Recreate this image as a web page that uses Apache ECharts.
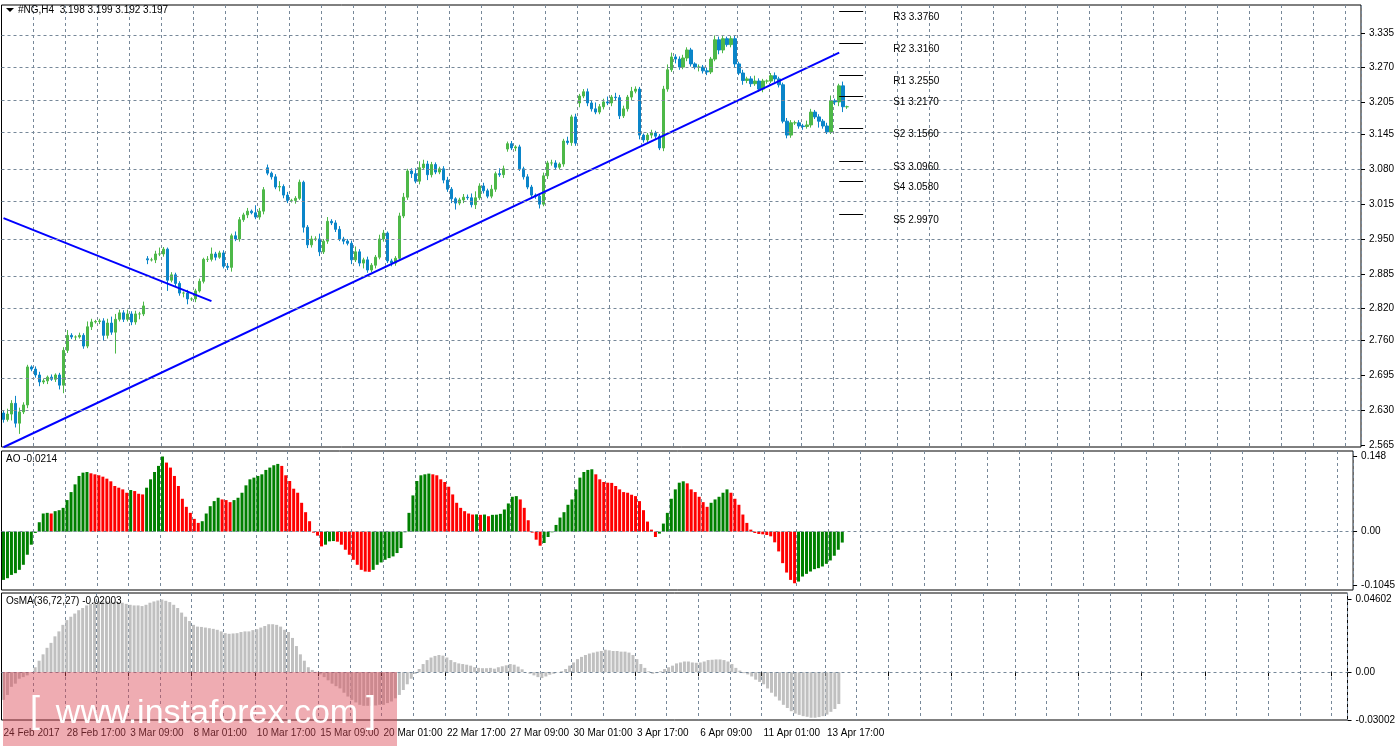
<!DOCTYPE html>
<html>
<head>
<meta charset="utf-8">
<script src="https://cdn.jsdelivr.net/npm/echarts@6/dist/echarts.min.js"></script>
<style>
html, body { margin: 0; padding: 0; background: #fff; }
#chart { width: 1398px; height: 750px; }
</style>
</head>
<body>
<div id="chart"></div>
<script>
// H4 closes
var closes = [
2.613,2.623,2.643,2.606,2.627,2.640,2.711,2.707,2.696,2.683,
2.685,2.692,2.688,2.696,2.677,2.742,2.770,2.767,2.767,2.770,
2.750,2.786,2.795,2.796,2.797,2.770,2.793,2.776,2.800,2.812,
2.800,2.810,2.795,2.810,2.810,2.825,2.911,2.911,2.922,2.922,
2.931,2.873,2.883,2.867,2.849,2.849,2.838,2.838,2.853,2.871,
2.912,2.912,2.922,2.916,2.924,2.899,2.897,2.956,2.950,2.986,
2.995,3.002,2.999,2.991,3.002,3.042,3.073,3.066,3.047,3.048,
3.032,3.022,3.022,3.026,3.056,2.972,2.939,2.950,2.950,2.926,
2.946,2.983,2.980,2.968,2.950,2.946,2.942,2.911,2.926,2.905,
2.911,2.892,2.901,2.916,2.950,2.961,2.909,2.905,2.914,2.993,
3.028,3.077,3.072,3.058,3.083,3.090,3.070,3.089,3.075,3.081,
3.060,3.043,3.025,3.017,3.023,3.028,3.027,3.014,3.027,3.049,
3.040,3.030,3.043,3.072,3.070,3.081,3.128,3.120,3.122,3.081,
3.066,3.047,3.032,3.030,3.015,3.068,3.092,3.092,3.084,3.090,
3.133,3.130,3.178,3.129,3.217,3.225,3.204,3.193,3.187,3.197,
3.206,3.204,3.215,3.214,3.180,3.193,3.215,3.226,3.230,3.144,
3.135,3.144,3.148,3.142,3.120,3.230,3.266,3.290,3.286,3.271,
3.288,3.303,3.277,3.271,3.271,3.264,3.262,3.286,3.322,3.303,
3.324,3.313,3.324,3.277,3.260,3.246,3.249,3.240,3.245,3.230,
3.245,3.245,3.255,3.249,3.238,3.170,3.144,3.167,3.167,3.161,
3.160,3.163,3.187,3.178,3.170,3.161,3.150,3.208,3.206,3.236,
3.197,3.197
];
var firstOpen = 2.625;
// opens after weekend gaps
var gapOpens = { 36: 2.913, 66: 3.083, 126: 3.118, 144: 3.204 };
// wick lengths in thousandths
var wickUp = [
4,10,6,14,8,5,4,3,5,6, 4,3,5,3,4,6,10,4,3,5, 4,10,6,3,4,5,8,12,10,6,
5,8,5,6,4,8,5,4,6,12, 4,3,5,4,4,3,6,3,4,5, 3,6,12,4,4,5,6,4,8,5,
4,6,3,14,6,5,6,3,5,10, 4,6,3,4,5,3,4,6,5,10, 4,8,4,5,6,4,4,5,10,5,
4,6,4,4,8,6,3,4,4,6, 8,4,5,10,12,8,6,5,4,4, 5,6,4,3,4,6,5,8,12,5,
6,4,8,4,10,6,4,5,3,4, 4,5,4,3,4,6,4,6,5,3, 4,8,4,6,4,5,6,4,12,5,
6,10,4,8,5,6,4,8,5,4, 3,4,6,4,4,6,10,8,5,5, 6,5,4,3,5,4,6,4,8,6,
5,4,5,6,4,6,4,5,10,5, 4,3,5,6,4,4,6,5,4,5, 4,8,6,4,5,4,6,10,4,4, 8,2
];
var wickDn = [
6,4,12,8,20,4,6,4,5,8, 4,6,3,5,8,15,5,4,6,3, 5,4,6,3,5,10,6,5,40,4,
5,4,6,5,10,4,8,3,6,4, 5,20,4,6,5,8,10,4,6,3, 4,5,4,6,3,4,5,8,4,5,
4,6,3,4,5,6,4,5,4,8, 6,5,4,6,3,10,6,5,4,8, 4,5,4,5,4,6,4,8,4,6,
10,5,4,6,4,5,4,6,5,4, 4,5,8,4,6,4,10,5,4,4, 6,5,8,12,4,6,4,5,8,4,
5,4,4,5,4,6,5,4,6,4, 5,4,6,5,8,4,6,5,4,4, 5,4,6,5,8,4,6,5,4,4,
5,4,6,5,6,4,5,6,4,8, 5,4,6,5,4,6,5,4,8,5, 4,6,5,4,8,5,6,4,4,8,
6,4,5,6,4,8,5,6,4,5, 6,5,4,6,5,4,6,5,4,5, 6,4,5,4,12,5,4,4,6,8, 10,4
];
var aoValues = [
-0.0946,-0.0913,-0.0848,-0.0815,-0.0749,-0.0650,-0.0453,-0.0256,-0.0026,0.0184,
0.0355,0.0368,0.0355,0.0401,0.0420,0.0466,0.0618,0.0775,0.0926,0.1091,
0.1156,0.1169,0.1143,0.1123,0.1104,0.1077,0.1038,0.0986,0.0894,0.0861,
0.0828,0.0762,0.0815,0.0795,0.0742,0.0729,0.0861,0.1025,0.1169,0.1288,
0.1472,0.1353,0.1255,0.1091,0.0894,0.0644,0.0486,0.0368,0.0250,0.0171,
0.0204,0.0355,0.0499,0.0598,0.0664,0.0631,0.0618,0.0578,0.0618,0.0664,
0.0762,0.0907,0.1025,0.1058,0.1091,0.1123,0.1209,0.1255,0.1301,0.1327,
0.1288,0.1104,0.0992,0.0841,0.0762,0.0565,0.0381,0.0204,-0.0020,-0.0079,
-0.0289,-0.0256,-0.0191,-0.0185,-0.0197,-0.0256,-0.0355,-0.0453,-0.0552,-0.0650,
-0.0749,-0.0782,-0.0788,-0.0749,-0.0650,-0.0604,-0.0552,-0.0519,-0.0486,-0.0420,
-0.0322,-0.0013,0.0368,0.0710,0.0992,0.1104,0.1123,0.1137,0.1123,0.1104,
0.1025,0.0972,0.0880,0.0729,0.0565,0.0466,0.0401,0.0355,0.0335,0.0338,
0.0329,0.0335,0.0302,0.0329,0.0332,0.0348,0.0434,0.0552,0.0683,0.0696,
0.0631,0.0466,0.0223,-0.0020,-0.0158,-0.0276,-0.0223,-0.0105,-0.0013,0.0131,
0.0276,0.0381,0.0526,0.0631,0.0828,0.1058,0.1169,0.1209,0.1222,0.1123,
0.1025,0.0972,0.0959,0.0955,0.0894,0.0828,0.0775,0.0762,0.0723,0.0696,
0.0598,0.0420,0.0197,0.0039,-0.0105,-0.0039,0.0158,0.0368,0.0644,0.0828,
0.0959,0.0986,0.0946,0.0828,0.0775,0.0683,0.0578,0.0486,0.0565,0.0631,
0.0683,0.0762,0.0828,0.0762,0.0644,0.0526,0.0335,0.0171,0.0039,-0.0026,
-0.0046,-0.0053,-0.0066,-0.0092,-0.0210,-0.0388,-0.0618,-0.0802,-0.0946,-0.1012,
-0.0979,-0.0880,-0.0828,-0.0782,-0.0736,-0.0716,-0.0683,-0.0631,-0.0565,-0.0473,
-0.0355,-0.0214
];
var osmaValues = [
-0.0174,-0.0143,-0.0092,-0.0072,-0.0041,-0.0031,-0.0020,-0.0002,0.0031,0.0072,
0.0112,0.0153,0.0184,0.0225,0.0256,0.0297,0.0327,0.0348,0.0368,0.0389,
0.0403,0.0419,0.0429,0.0440,0.0444,0.0446,0.0444,0.0444,0.0440,0.0440,
0.0436,0.0429,0.0423,0.0419,0.0419,0.0415,0.0423,0.0436,0.0444,0.0450,
0.0456,0.0448,0.0440,0.0423,0.0403,0.0374,0.0348,0.0321,0.0297,0.0286,
0.0284,0.0280,0.0276,0.0272,0.0266,0.0256,0.0245,0.0241,0.0243,0.0245,
0.0252,0.0256,0.0256,0.0264,0.0270,0.0280,0.0290,0.0301,0.0301,0.0297,
0.0286,0.0266,0.0252,0.0215,0.0164,0.0112,0.0072,0.0031,0.0014,0.0002,
-0.0014,-0.0031,-0.0051,-0.0072,-0.0088,-0.0102,-0.0129,-0.0153,-0.0174,-0.0190,
-0.0205,-0.0211,-0.0211,-0.0211,-0.0209,-0.0205,-0.0205,-0.0194,-0.0184,-0.0164,
-0.0143,-0.0112,-0.0076,-0.0041,-0.0010,0.0020,0.0051,0.0076,0.0092,0.0102,
0.0108,0.0104,0.0092,0.0076,0.0063,0.0055,0.0051,0.0047,0.0041,0.0031,
0.0027,0.0025,0.0025,0.0027,0.0022,0.0031,0.0037,0.0043,0.0051,0.0047,
0.0035,0.0018,0.0000,-0.0010,-0.0020,-0.0031,-0.0037,-0.0027,-0.0016,-0.0010,
0.0001,0.0006,0.0020,0.0041,0.0061,0.0082,0.0096,0.0108,0.0117,0.0123,
0.0129,0.0133,0.0141,0.0137,0.0133,0.0133,0.0129,0.0129,0.0123,0.0108,
0.0082,0.0051,0.0027,0.0006,-0.0010,-0.0006,0.0006,0.0020,0.0031,0.0041,
0.0055,0.0061,0.0067,0.0067,0.0061,0.0059,0.0061,0.0067,0.0076,0.0078,
0.0080,0.0080,0.0076,0.0067,0.0051,0.0027,0.0010,-0.0006,-0.0014,-0.0027,
-0.0047,-0.0061,-0.0076,-0.0102,-0.0129,-0.0153,-0.0178,-0.0205,-0.0225,-0.0245,
-0.0260,-0.0268,-0.0276,-0.0280,-0.0286,-0.0286,-0.0282,-0.0276,-0.0266,-0.0249,
-0.0231,-0.0200
];
var dateLabels = ['24 Feb 2017','28 Feb 17:00','3 Mar 09:00','8 Mar 01:00','10 Mar 17:00',
  '15 Mar 09:00','20 Mar 01:00','22 Mar 17:00','27 Mar 09:00','30 Mar 01:00',
  '3 Apr 17:00','6 Apr 09:00','11 Apr 01:00','13 Apr 17:00'];
var priceTicks = [2.565,2.630,2.695,2.760,2.820,2.885,2.950,3.015,3.080,3.145,3.205,3.270,3.335];
var pivotNames = ['R3','R2','R1','S1','S2','S3','S4','S5'];
var pivotValues = [3.376,3.316,3.255,3.217,3.156,3.096,3.058,2.997];
// trendlines: [bar, price] endpoints
var trendDown = [[0, 2.989], [52, 2.834]];
var trendUp = [[0, 2.561], [209, 3.298]];
var lastPrice = 3.197;

var slots = 340;
var cats = [];
for (var i = 0; i < slots; i++) cats.push(String(i));

var candles = [];
for (var i = 0; i < closes.length; i++) {
  var o = gapOpens[i] != null ? gapOpens[i] : (i ? closes[i - 1] : firstOpen);
  var c = closes[i];
  candles.push([o, c, +(Math.min(o, c) - wickDn[i] / 1000).toFixed(3), +(Math.max(o, c) + wickUp[i] / 1000).toFixed(3)]);
}
var aoData = aoValues.map(function (v, i) {
  return { value: v, itemStyle: { color: (i > 0 && v < aoValues[i - 1]) ? '#ff0000' : '#008000' } };
});

var gridCol = '#778899';
var font = 'Liberation Sans';
function xAx(idx, showLabels) {
  return {
    type: 'category', gridIndex: idx, data: cats, boundaryGap: true,
    axisLine: { show: false },
    axisTick: { show: showLabels, interval: function (i) { return i % 16 === 0; }, length: 4, lineStyle: { color: '#000' } },
    axisLabel: {
      show: showLabels, interval: function (i) { return i % 16 === 0; },
      formatter: function (v, i) { return dateLabels[i / 16] || ''; },
      align: 'left', color: '#000', fontSize: 10, fontFamily: font, margin: 8
    },
    splitLine: { show: true, interval: function (i) { return i % 8 === 0 && i > 0; },
      lineStyle: { color: gridCol, type: [3, 3], width: 1 } }
  };
}
var border = { show: true, borderColor: '#000', borderWidth: 1, backgroundColor: '#fff' };

var chart = echarts.init(document.getElementById('chart'));
var option = {
  animation: false,
  backgroundColor: '#fff',
  grid: [
    Object.assign({ left: 1.5, right: 37, top: 5, height: 442 }, border),
    Object.assign({ left: 1.5, right: 37, top: 451, height: 139 }, border),
    Object.assign({ left: 1.5, right: 37, top: 593, height: 127 }, border)
  ],
  xAxis: [xAx(0, false), xAx(1, false), xAx(2, true)],
  yAxis: [
    { type: 'value', gridIndex: 0, position: 'right', min: 2.5615, max: 3.387, scale: true,
      splitLine: { show: false }, axisLine: { show: false },
      axisTick: { show: true, customValues: priceTicks, length: 4, lineStyle: { color: '#000' } },
      axisLabel: { customValues: priceTicks, color: '#000', fontSize: 10, fontFamily: font,
        formatter: function (v) { return v.toFixed(3); } } },
    { type: 'value', gridIndex: 1, position: 'right', min: -0.1144, max: 0.158,
      splitLine: { show: false }, axisLine: { show: false },
      axisTick: { show: true, customValues: [0.148, 0, -0.1045], length: 4, lineStyle: { color: '#000' } },
      axisLabel: { customValues: [0.148, 0, -0.1045], color: '#000', fontSize: 10, fontFamily: font,
        formatter: function (v) { return v === 0 ? '0.00' : String(v); } } },
    { type: 'value', gridIndex: 2, position: 'right', min: -0.03002, max: 0.0497,
      splitLine: { show: false }, axisLine: { show: false },
      axisTick: { show: true, customValues: [0.04602, 0, -0.03002], length: 4, lineStyle: { color: '#000' } },
      axisLabel: { customValues: [0.04602, 0, -0.03002], color: '#000', fontSize: 10, fontFamily: font,
        formatter: function (v) { return v === 0 ? '0.00' : String(v); } } }
  ],
  series: [
    { type: 'line', xAxisIndex: 0, yAxisIndex: 0, data: [], silent: true,
      markLine: { symbol: 'none', silent: true, label: { show: false },
        lineStyle: { color: gridCol, type: [3, 3], width: 1 },
        data: priceTicks.slice(1).map(function (v) { return { yAxis: v }; }) } },
    { type: 'candlestick', xAxisIndex: 0, yAxisIndex: 0, data: candles, barWidth: 3,
      itemStyle: { color: '#4db848', color0: '#0a85c9', borderColor: '#4db848', borderColor0: '#0a85c9', borderWidth: 1 },
      markLine: { symbol: 'none', silent: true, animation: false,
        data: [[
          { yAxis: lastPrice, lineStyle: { color: '#778899', type: 'solid', width: 1 },
            label: { show: true, position: 'end', formatter: lastPrice.toFixed(3), color: '#fff',
              backgroundColor: '#000', padding: [2, 3], fontSize: 10, fontFamily: font, distance: 2 } },
          { yAxis: lastPrice }
        ]].concat(pivotValues.map(function (v, k) {
          return [
            { coord: [209, v], lineStyle: { color: '#000', type: 'solid', width: 1 },
              label: { show: true, position: 'end', distance: 30, offset: [0, 6], color: '#000', fontSize: 10, fontFamily: font,
                formatter: pivotNames[k] + ' ' + v.toFixed(4) } },
            { coord: [215, v] }
          ];
        }))
      } },
    { type: 'line', xAxisIndex: 0, yAxisIndex: 0, data: trendDown, symbol: 'none',
      lineStyle: { color: '#0000ff', width: 2 }, silent: true },
    { type: 'line', xAxisIndex: 0, yAxisIndex: 0, data: trendUp, symbol: 'none',
      lineStyle: { color: '#0000ff', width: 2 }, silent: true },
    { type: 'bar', xAxisIndex: 1, yAxisIndex: 1, data: aoData, barWidth: 3,
      markLine: { symbol: 'none', silent: true, label: { show: false },
        lineStyle: { color: gridCol, type: [3, 3], width: 1 }, data: [{ yAxis: 0 }] } },
    { type: 'bar', xAxisIndex: 2, yAxisIndex: 2, data: osmaValues, barWidth: 3,
      itemStyle: { color: '#c0c0c0' },
      markLine: { symbol: 'none', silent: true, label: { show: false },
        lineStyle: { color: gridCol, type: [3, 3], width: 1 }, data: [{ yAxis: 0 }] } }
  ],
  graphic: [
    { type: 'polygon', shape: { points: [[6, 8], [14, 8], [10, 12]] }, style: { fill: '#000' }, z: 100 },
    { type: 'text', left: 18, top: 5, z: 100,
      style: { text: '#NG,H4  3.198 3.199 3.192 3.197', fill: '#000', font: '10px "Liberation Sans"' } },
    { type: 'text', left: 6, top: 454, z: 100,
      style: { text: 'AO -0.0214', fill: '#000', font: '10px "Liberation Sans"' } },
    { type: 'text', left: 6, top: 596, z: 100,
      style: { text: 'OsMA(36,72,27) -0.02003', fill: '#000', font: '10px "Liberation Sans"' } },
    { type: 'rect', shape: { x: 3, y: 672, width: 394, height: 74 }, z: 100,
      style: { fill: 'rgba(220,70,85,0.45)' } },
    { type: 'text', x: 30, y: 712, z: 101,
      style: { text: '[', fill: '#fff', verticalAlign: 'middle', font: '300 36px "Liberation Sans"' } },
    { type: 'text', x: 207, y: 714, z: 101,
      style: { text: 'www.instaforex.com', fill: '#fff', align: 'center', verticalAlign: 'middle',
        font: '34px "Liberation Sans"' } },
    { type: 'text', x: 366, y: 712, z: 101,
      style: { text: ']', fill: '#fff', verticalAlign: 'middle', font: '300 36px "Liberation Sans"' } }
  ]
};
chart.setOption(option);
</script>
</body>
</html>
